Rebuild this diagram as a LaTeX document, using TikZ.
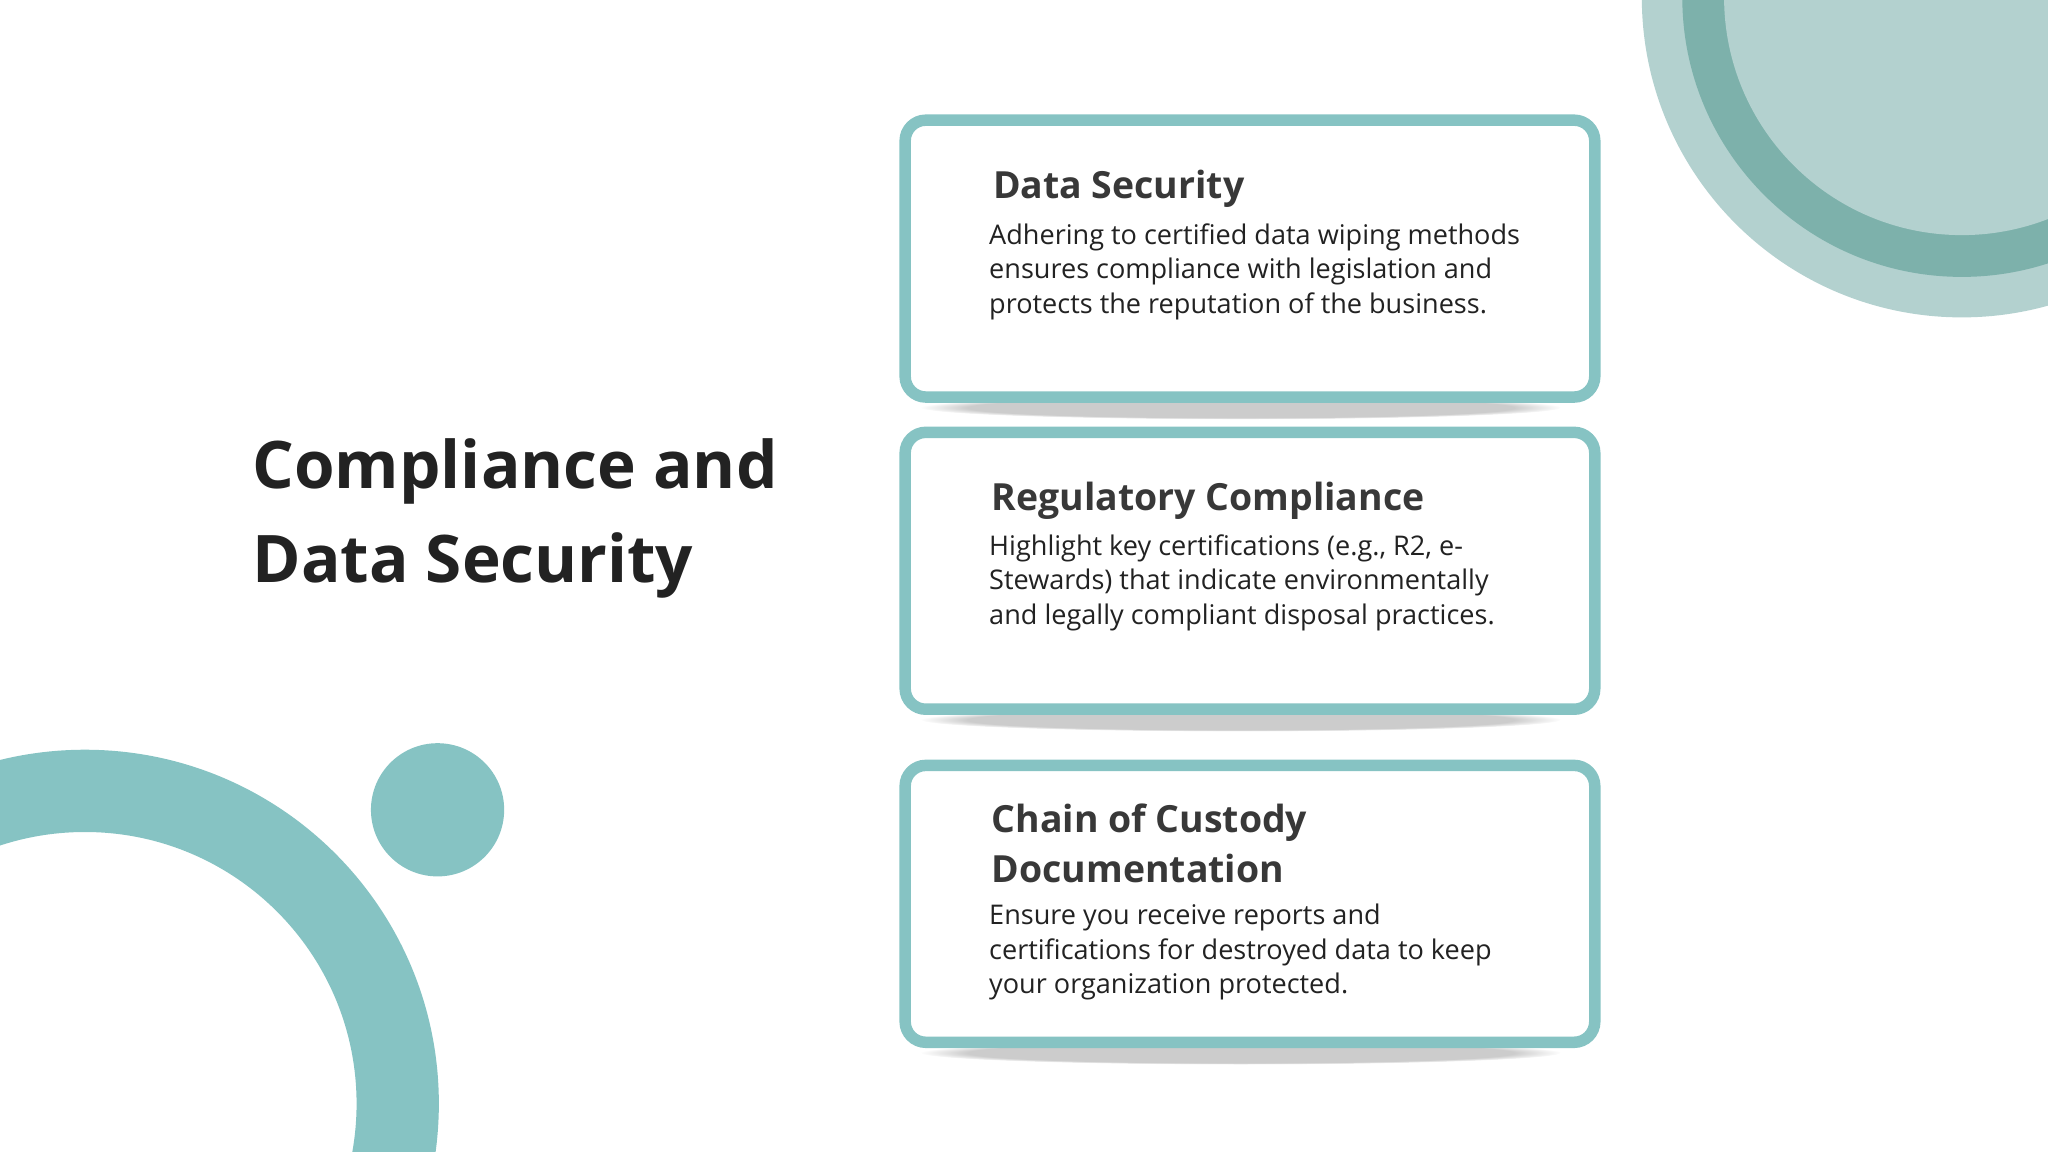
\documentclass[tikz,border=0pt]{standalone}
\usepackage{fontspec}
\setmainfont{Open Sans}
\usetikzlibrary{fadings}
\definecolor{teal}{HTML}{86C3C3}
\definecolor{lightt}{HTML}{B3D1CF}
\definecolor{darkt}{HTML}{7DB1AB}
\definecolor{txt}{HTML}{222222}
\tikzset{
 card/.style={draw=teal,line width=5pt,rounded corners=9pt,fill=white},
 head/.style={anchor=base west,inner sep=0,font=\fontsize{16.3}{20}\selectfont\bfseries,text=txt!90},
 body/.style={anchor=base west,inner sep=0,align=left,font=\fontsize{11.8}{15.1}\selectfont,text=txt},
}
\begin{document}
\begin{tikzpicture}[x=0.02cm,y=-0.02cm]
\useasboundingbox (0,0) rectangle (1568,882);
\begin{scope}
\clip (0,0) rectangle (1568,882);
\fill[lightt] (1502,-2) circle (245);
\fill[darkt] (1502,-2) circle (214);
\fill[lightt] (1502,-2) circle (182);
\fill[teal,even odd rule] (65,845) circle (271) (65,845) circle (208);
\fill[teal] (335,620) circle (51);
\end{scope}
\node[anchor=base west,inner sep=0,align=left,font=\fontsize{28.6}{41}\selectfont\bfseries,text=txt] (title) at (193,446) {Compliance and\\Data Security};
\foreach \y [count=\i] in {92,331,586}{
 \fill[black,opacity=0.2,path fading=circle with fuzzy edge 15 percent] (950,\y+220) ellipse (245 and 9);
 \draw[card] (693,\y) rectangle (1221,\y+212) coordinate (c\i);
}
\node[head] (h1) at (760,152) {Data Security};
\node[body] (b1) at (757,240) {Adhering to certified data wiping methods\\ensures compliance with legislation and\\protects the reputation of the business.};
\node[head] (h2) at (759,391) {Regulatory Compliance};
\node[body] (b2) at (757,478) {Highlight key certifications (e.g., R2, e-\\Stewards) that indicate environmentally\\and legally compliant disposal practices.};
\node[head,align=left] (h3) at (759,676) {Chain of Custody\\[2pt]Documentation};
\node[body] (b3) at (757,761) {Ensure you receive reports and\\certifications for destroyed data to keep\\your organization protected.};
\end{tikzpicture}
\end{document}
